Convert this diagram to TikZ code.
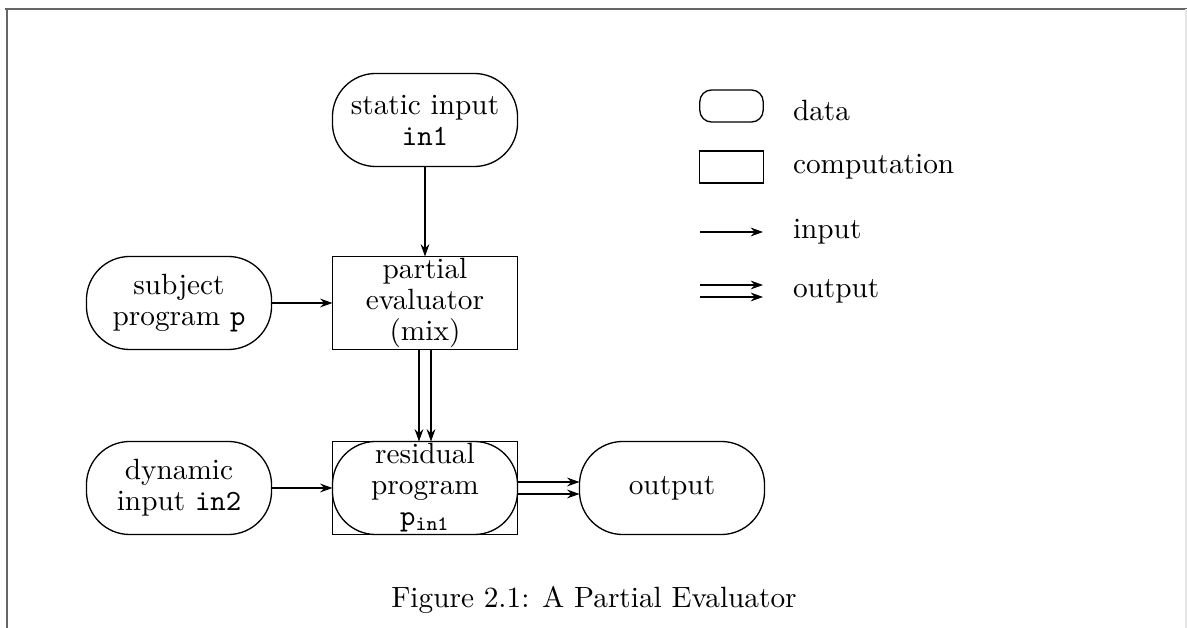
\documentclass[tikz,border=0pt]{standalone}
\usetikzlibrary{arrows.meta,calc}
\begin{document}
\begin{tikzpicture}[x=0.012cm,y=-0.012cm,
  every node/.style={font=\fontsize{10}{10.6}\selectfont, align=center, inner sep=0pt, outer sep=0pt},
  datanode/.style={draw, line width=0.45pt, rounded corners=0.52cm, minimum width=2.22cm, minimum height=1.116cm},
  compnode/.style={draw, line width=0.45pt, minimum width=2.22cm, minimum height=1.116cm},
  inarrow/.style={line width=0.4pt, -{Stealth[length=4.2pt,width=3pt]}},
  frameline/.style={draw=black!60, line width=1pt}
]
\useasboundingbox (0,0) rectangle (1187,628);

% page frame
\draw[frameline] (5,9) -- (1187,9);
\draw[frameline, line width=0.8pt] (7,9) -- (7,628);
\draw[black!10, line width=0.5pt] (1186,9) -- (1186,628);

% main flow
\node[datanode] (static) at (425,120) {static input\\\texttt{in1}};
\node[compnode] (pe) at (425,303) {partial\\evaluator\\(mix)};
\node[datanode] (subj) at (179,303) {subject\\program \texttt{p}};
\node[datanode] (dyn) at (179,488) {dynamic\\input \texttt{in2}};
\node[datanode] (res) at (425,488) {residual\\program\\$\mathtt{p}_{\mathtt{in1}}$};
\draw[line width=0.45pt] (res.north west) rectangle (res.south east);
\node[datanode] (out) at (672,488) {output};

\draw[inarrow] (static) -- (pe);
\draw[inarrow] (subj) -- (pe);
\draw[inarrow] (dyn) -- (res);
\draw[inarrow] ($(pe.south)+(-6,0)$) -- ($(res.north)+(-6,0)$);
\draw[inarrow] ($(pe.south)+(6,0)$) -- ($(res.north)+(6,0)$);
\draw[inarrow] ($(res.east)+(0,-6)$) -- ($(out.west)+(0,-6)$);
\draw[inarrow] ($(res.east)+(0,6)$) -- ($(out.west)+(0,6)$);

% legend
\node[draw, line width=0.45pt, rounded corners=0.14cm, minimum width=0.76cm, minimum height=0.384cm] (legdata) at (731.5,106) {};
\node[anchor=west] (legdatatxt) at (793,110) {data};
\node[draw, line width=0.45pt, minimum width=0.76cm, minimum height=0.384cm] (legcomp) at (731.5,167) {};
\node[anchor=west] (legcomptxt) at (793,167) {computation};
\coordinate (inA) at (700,232);
\coordinate (inB) at (763,232);
\node[anchor=west] (legintxt) at (793,232) {input};
\draw[inarrow] (inA) -- (inB);
\coordinate (outA1) at (700,285);
\coordinate (outB1) at (763,285);
\coordinate (outA2) at (700,297);
\coordinate (outB2) at (763,297);
\draw[inarrow] (outA1) -- (outB1);
\draw[inarrow] (outA2) -- (outB2);
\node[anchor=west] (legouttxt) at (793,291) {output};

% caption
\node (caption) at (594,600) {Figure 2.1: A Partial Evaluator};
\end{tikzpicture}
\end{document}
